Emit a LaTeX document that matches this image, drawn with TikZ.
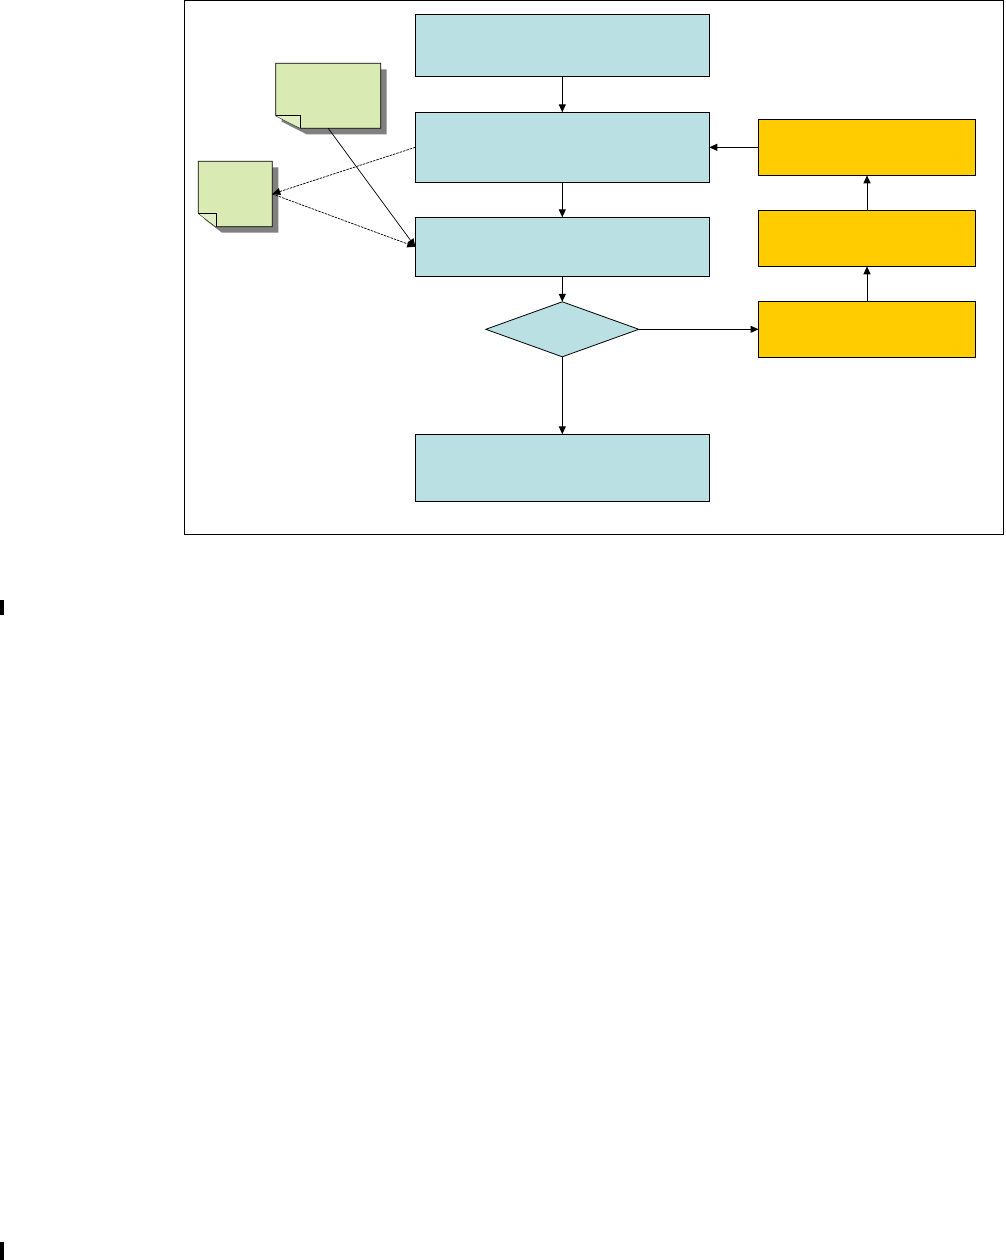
\documentclass[tikz,border=0pt]{standalone}
\usetikzlibrary{arrows.meta,shapes.geometric}
\definecolor{procblue}{HTML}{BBE0E3}
\definecolor{fixgold}{HTML}{FFCC00}
\definecolor{notegreen}{HTML}{D9EAB3}
\definecolor{notefold}{HTML}{E2EFC4}
\definecolor{noteshade}{HTML}{808080}
% sticky note: #1 name, #2-#5 left/top/right/bottom (px), #6/#7 fold size
\newcommand{\notesheet}[7]{%
  \begin{scope}[shift={(6,6)}]
    \fill[noteshade] (#2,#3) -- (#4,#3) -- (#4,#5) -- ({#2+#6},#5) -- (#2,{#5-#7}) -- cycle;
  \end{scope}
  \node[minimum width={#4-#2},minimum height={#5-#3}] (#1) at ({(#2+#4)/2},{(#3+#5)/2}) {};
  \filldraw[fill=notegreen,line width=0.8pt] (#2,#3) -- (#4,#3) -- (#4,#5) -- ({#2+#6},#5) -- (#2,{#5-#7}) -- cycle;
  \filldraw[fill=notefold,line width=0.8pt] ({#2+#6},#5) -- ({#2+#6},{#5-#7}) -- (#2,{#5-#7});
}

\begin{document}
\begin{tikzpicture}[x=1pt,y=-1pt,
  every node/.style={inner sep=0pt,outer sep=0pt},
  procbox/.style={draw,line width=1pt,fill=procblue,minimum width=294pt},
  fixbox/.style={draw,line width=1pt,fill=fixgold,minimum width=217pt,minimum height=56pt},
  flow/.style={line width=1pt,-{Triangle[length=8pt,width=7pt]}},
  link/.style={line width=0.7pt,-{Triangle[length=8pt,width=7pt]}}]
  \path[use as bounding box] (0,0) rectangle (1005,1260);  % canvas 1005x1260 px
  % ---- frame and margin marks ----
  \draw[line width=0.9pt] (184.5,0.5) rectangle (1003.5,534);
  \fill (0,600) rectangle (3.5,615);
  \fill (0,1242) rectangle (3.5,1260);
  % ---- main column ----
  \node[procbox,minimum height=62pt] (start)  at (562.3, 45.3) {};
  \node[procbox,minimum height=70pt] (proc)   at (562.3,147.3) {};
  \node[procbox,minimum height=59pt] (check)  at (562.3,246.8) {};
  \node[draw,line width=0.8pt,fill=procblue,diamond,minimum width=153pt,minimum height=55pt] (decide) at (562.3,329.3) {};
  \node[procbox,minimum height=67pt] (finish) at (562.3,467.8) {};
  % ---- right column ----
  \node[fixbox] (fixa) at (867,147.3) {};
  \node[fixbox] (fixb) at (867,238.3) {};
  \node[fixbox] (fixc) at (867,329.3) {};
  % ---- notes ----
  \notesheet{memo}{275.7}{63.3}{380.7}{128.3}{25}{12.6}
  \notesheet{log}{198.3}{161.3}{272.3}{226.7}{17.7}{13.4}
  % ---- connectors ----
  \draw[flow] (start) -- (proc);
  \draw[flow] (proc) -- (check);
  \draw[flow] (check) -- (decide);
  \draw[flow] (decide) -- (finish);
  \draw[flow] (decide) -- (fixc);
  \draw[flow] (fixc) -- (fixb);
  \draw[flow] (fixb) -- (fixa);
  \draw[flow] (fixa) -- (proc);
  \draw[link,dash pattern=on 2.5pt off 1pt] (proc.west) -- (log.east);
  \draw[link,dash pattern=on 2.5pt off 1pt] (log.east) -- (check.west);
  \draw[link] (memo.south) -- (check.west);
\end{tikzpicture}
\end{document}
